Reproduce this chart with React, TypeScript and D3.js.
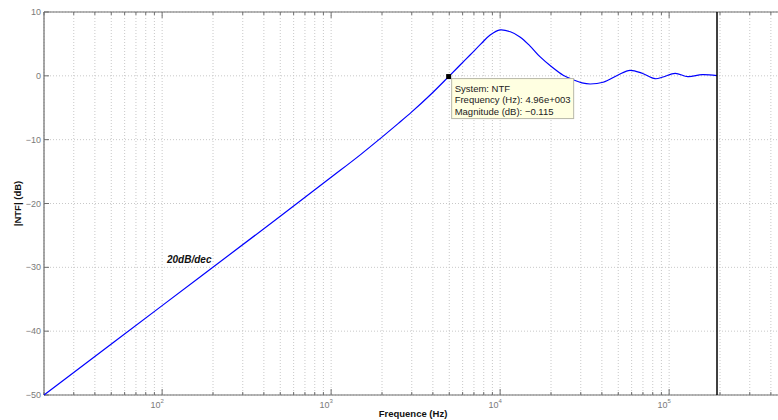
import React from "react";
import * as d3 from "d3";

const freqHz = [20, 100, 500, 1000, 1500, 2000, 2500, 3000, 3855, 4960, 5800, 6640, 7700, 8730, 10000, 11500, 13100, 15000, 17200, 20000, 23600, 27000, 30500, 34100, 40700, 49900, 58700, 69200, 82600, 92000, 108600, 129000, 157000, 192000];
const magDb = [-50, -36.0, -22.0, -15.9, -12.3, -9.6, -7.45, -5.65, -3.0, -0.115, 1.7, 3.26, 5.0, 6.4, 7.2, 6.9, 6.1, 4.7, 3.0, 1.5, 0.1, -0.6, -1.1, -1.28, -1.0, 0.13, 0.86, 0.4, -0.45, -0.18, 0.4, -0.13, 0.18, 0.02];
const yTicks = [10, 0, -10, -20, -30, -40, -50];
const xMajor = [100, 1000, 10000, 100000];
const xMajorExp = ["2", "3", "4", "5"];
const cursorFreq = 4960;
const cursorMag = -0.115;
const cursorLines = ["System: NTF", "Frequency (Hz): 4.96e+003", "Magnitude (dB): \u22120.115"];
const nyquist = 192000;

export default function App() {
  const W = 778, H = 420;
  const L = 44, R = 782, T = 12, B = 395;
  const x = d3.scaleLog().domain([20, 20 * Math.pow(10, (R - L) / 169)]).range([L, R]);
  const y = d3.scaleLinear().domain([-50, 10]).range([B, T]);
  const minor: number[] = [];
  for (let e = 1; e <= 5; e++) {
    for (let m = 1; m <= 9; m++) {
      const v = m * Math.pow(10, e);
      if (v >= 20 && x(v) <= W + 2) minor.push(v);
    }
  }
  const line = d3.line<number>()
    .x((_, i) => x(freqHz[i]))
    .y((d) => y(d))
    .curve(d3.curveCatmullRom.alpha(0.5));
  const grid = "#c8c8c8";
  const axisC = "#6e6e6e";
  const txtC = "#7a7a7a";
  const font = "Liberation Sans, Arial, Helvetica, sans-serif";
  const cx = x(cursorFreq), cy = y(cursorMag);
  return (
    <svg width={W} height={H} style={{ position: "absolute", left: 0, top: 0 }} fontFamily={font}>
      <rect x={0} y={0} width={W} height={H} fill="#fff" />
      {minor.map((v, i) => (
        <line key={"gv" + i} x1={x(v)} x2={x(v)} y1={T} y2={B} stroke={grid} strokeWidth={1} strokeDasharray="1,2" />
      ))}
      {yTicks.map((v, i) => (
        <line key={"gh" + i} x1={L} x2={W} y1={y(v)} y2={y(v)} stroke={grid} strokeWidth={1} strokeDasharray="1,2" />
      ))}
      {minor.map((v, i) => {
        const major = xMajor.includes(v);
        const len = major ? 6 : 3;
        return (
          <g key={"xt" + i}>
            <line x1={x(v)} x2={x(v)} y1={B} y2={B - len} stroke={axisC} />
            <line x1={x(v)} x2={x(v)} y1={T} y2={T + len} stroke={axisC} />
          </g>
        );
      })}
      {yTicks.map((v, i) => (
        <g key={"yt" + i}>
          <line x1={L} x2={L + 5} y1={y(v)} y2={y(v)} stroke={axisC} />
          <text x={L - 3} y={y(v) + 3} fontSize={9} fill={txtC} textAnchor="end">
            {v < 0 ? "\u2212" + Math.abs(v) : String(v)}
          </text>
        </g>
      ))}
      {xMajor.map((v, i) => (
        <text key={"xl" + i} x={x(v) - 5} y={408} fontSize={9} fill={txtC} textAnchor="middle">
          10<tspan dy={-5} fontSize={6}>{xMajorExp[i]}</tspan>
        </text>
      ))}
      <line x1={L} x2={W} y1={T} y2={T} stroke={axisC} strokeWidth={1.2} />
      <line x1={L} x2={W} y1={B} y2={B} stroke={axisC} strokeWidth={1.2} />
      <line x1={L} x2={L} y1={T} y2={B} stroke={axisC} strokeWidth={1.2} />
      <path d={line(magDb) || ""} fill="none" stroke="#0000ff" strokeWidth={1.2} />
      <line x1={x(nyquist)} x2={x(nyquist)} y1={T} y2={B} stroke="#000" strokeWidth={1.5} />
      <text x={167} y={263} fontSize={10} fontWeight="bold" fontStyle="italic" fill="#111">20dB/dec</text>
      <rect x={cx + 3} y={cy + 2} width={122} height={40} fill="#ffffe1" stroke="#b8b8a8" strokeWidth={1} />
      <rect x={cx - 2.5} y={cy - 2.5} width={5} height={5} fill="#000" />
      {cursorLines.map((s, i) => (
        <text key={"cl" + i} x={cx + 6} y={cy + 15 + i * 11.5} fontSize={9.5} fill="#222">{s}</text>
      ))}
      <text x={413} y={417} fontSize={9.5} fontWeight="bold" fill="#111" textAnchor="middle">Frequence  (Hz)</text>
      <text transform={`translate(21,${(T + B) / 2}) rotate(-90)`} fontSize={9.5} fontWeight="bold" fill="#111" textAnchor="middle">|NTF| (dB)</text>
    </svg>
  );
}
